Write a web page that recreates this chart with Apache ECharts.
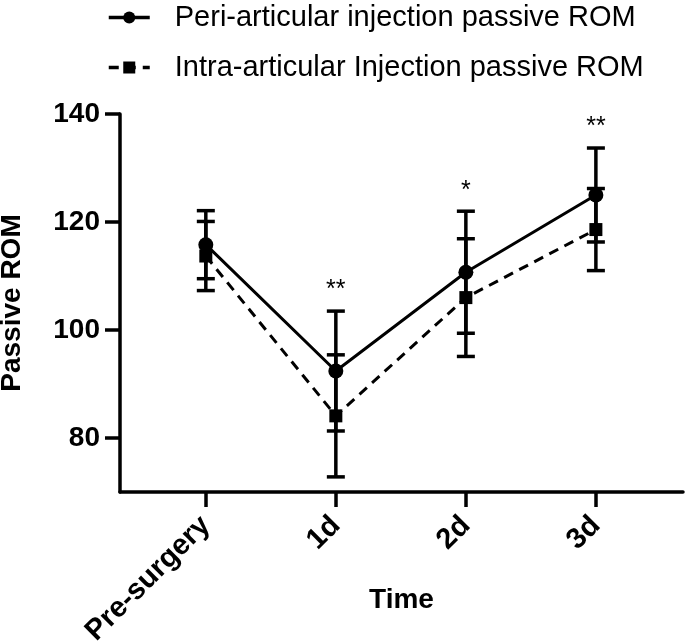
<!DOCTYPE html>
<html>
<head>
<meta charset="utf-8">
<script src="https://cdn.jsdelivr.net/npm/echarts@6/dist/echarts.min.js"></script>
<style>
  html, body { margin: 0; padding: 0; background: #fff; }
  #chart { width: 685px; height: 642px; }
</style>
</head>
<body>
<div id="chart"></div>
<script>
// time points and tick labels
const categories = ['Pre-surgery', '1d', '2d', '3d'];
const yTicks = [80, 100, 120, 140];

// mean and SD
const periMean = [115.8, 92.4, 110.7, 125.0];
const periSD = [6.3, 11.1, 11.3, 8.7];
const intraMean = [113.7, 84.1, 106.0, 118.6];
const intraSD = [6.4, 11.3, 10.9, 7.6];

// significance marks above each time point
const sigMarks = ['', '**', '*', '**'];

const xTicks = categories.map((c, i) => i);
const periData = periMean.map((v, i) => [i, v]);
const intraData = intraMean.map((v, i) => [i, v]);
const periErr = periMean.map((v, i) => [i, v - periSD[i], v + periSD[i]]);
const intraErr = intraMean.map((v, i) => [i, v - intraSD[i], v + intraSD[i]]);
// marks sit above the highest whisker of the two groups
const sigData = sigMarks.map((m, i) => [i, Math.max(periMean[i] + periSD[i], intraMean[i] + intraSD[i]), m]);

function errorBar(params, api) {
  const x = api.value(0);
  const lo = api.coord([x, api.value(1)]);
  const hi = api.coord([x, api.value(2)]);
  const half = 9;
  const style = { stroke: '#000', lineWidth: 3.5 };
  return {
    type: 'group',
    children: [
      { type: 'line', shape: { x1: lo[0], y1: lo[1], x2: hi[0], y2: hi[1] }, style },
      { type: 'line', shape: { x1: lo[0] - half, y1: lo[1], x2: lo[0] + half, y2: lo[1] }, style },
      { type: 'line', shape: { x1: hi[0] - half, y1: hi[1], x2: hi[0] + half, y2: hi[1] }, style }
    ]
  };
}

function sigText(params, api) {
  const p = api.coord([api.value(0), api.value(1)]);
  return {
    type: 'text',
    x: p[0],
    y: p[1] - 8,
    style: {
      text: sigMarks[params.dataIndex],
      fill: '#000',
      font: '25px "Liberation Sans", Arial, sans-serif',
      align: 'center',
      verticalAlign: 'bottom'
    }
  };
}

const chart = echarts.init(document.getElementById('chart'));

const option = {
  animation: false,
  textStyle: { fontFamily: '"Liberation Sans", Arial, sans-serif', color: '#000' },
  legend: {
    orient: 'vertical',
    left: 102,
    top: -2,
    itemWidth: 41,
    itemHeight: 15,
    itemGap: 21,
    lineStyle: { width: 3.5 },
    textStyle: { fontSize: 29, color: '#000', padding: [0, 0, 0, 20] },
    data: ['Peri-articular injection passive ROM', 'Intra-articular Injection passive ROM']
  },
  grid: { left: 120, right: 2, top: 114, bottom: 150, outerBoundsMode: 'none' },
  xAxis: {
    type: 'value',
    min: -0.66,
    max: 3.67,
    name: 'Time',
    nameLocation: 'middle',
    nameGap: 94,
    nameMoveOverlap: false,
    nameTextStyle: { fontSize: 28, fontWeight: 'bold', color: '#000' },
    splitLine: { show: false },
    axisLine: { onZero: false, lineStyle: { color: '#000', width: 3.5 } },
    axisTick: { customValues: xTicks, length: 15, lineStyle: { color: '#000', width: 3.5 } },
    axisLabel: {
      customValues: xTicks,
      rotate: 45,
      margin: 29,
      fontSize: 29,
      fontWeight: 'bold',
      color: '#000',
      formatter: (v) => categories[Math.round(v)]
    }
  },
  yAxis: {
    type: 'value',
    min: 70,
    max: 140,
    name: 'Passive ROM',
    nameLocation: 'middle',
    nameGap: 94,
    nameMoveOverlap: false,
    nameTextStyle: { fontSize: 28, fontWeight: 'bold', color: '#000' },
    splitLine: { show: false },
    axisLine: { show: true, onZero: false, lineStyle: { color: '#000', width: 3.5 } },
    axisTick: { show: true, customValues: yTicks, length: 15, lineStyle: { color: '#000', width: 3.5 } },
    axisLabel: { customValues: yTicks, margin: 20, fontSize: 28, fontWeight: 'bold', color: '#000' }
  },
  series: [
    {
      type: 'custom',
      renderItem: errorBar,
      data: periErr,
      silent: true,
      z: 1
    },
    {
      type: 'custom',
      renderItem: errorBar,
      data: intraErr,
      silent: true,
      z: 1
    },
    {
      name: 'Peri-articular injection passive ROM',
      type: 'line',
      data: periData,
      symbol: 'circle',
      symbolSize: 15,
      itemStyle: { color: '#000' },
      lineStyle: { color: '#000', width: 3 },
      z: 3
    },
    {
      name: 'Intra-articular Injection passive ROM',
      type: 'line',
      data: intraData,
      symbol: 'rect',
      symbolSize: 13,
      itemStyle: { color: '#000' },
      lineStyle: { color: '#000', width: 3, type: [10, 7] },
      z: 2
    },
    {
      type: 'custom',
      renderItem: sigText,
      data: sigData,
      silent: true,
      z: 4
    }
  ]
};

chart.setOption(option);
</script>
</body>
</html>
